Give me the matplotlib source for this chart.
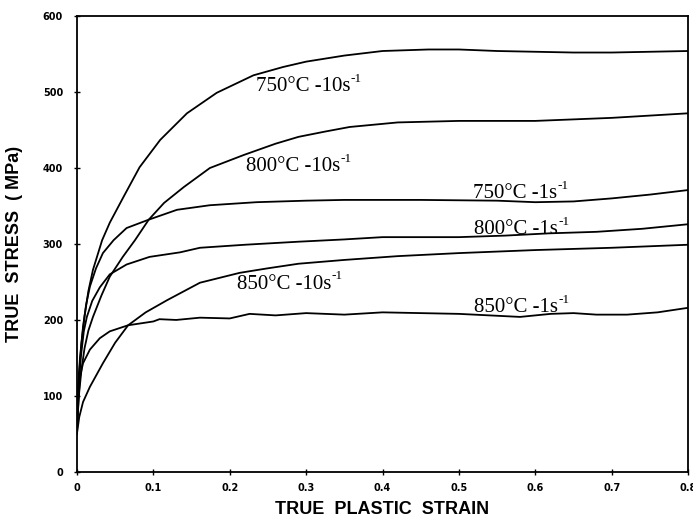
import matplotlib.pyplot as plt

# strain / stress points
s_750_10 = [0, 0.003, 0.006, 0.010, 0.015, 0.021, 0.033, 0.043, 0.061, 0.082, 0.109, 0.144, 0.183, 0.231,
            0.27, 0.30, 0.35, 0.40, 0.46, 0.50, 0.55, 0.60, 0.65, 0.70, 0.75, 0.80]
t_750_10 = [60, 130, 170, 205, 238, 266, 305, 328, 362, 401, 437, 472, 499, 522,
            533, 540, 548, 554, 556, 556, 554, 553, 552, 552, 553, 554]

s_800_10 = [0, 0.003, 0.006, 0.010, 0.015, 0.021, 0.032, 0.043, 0.060, 0.076, 0.094, 0.114, 0.140, 0.174, 0.218,
            0.26, 0.29, 0.325, 0.357, 0.42, 0.50, 0.55, 0.60, 0.65, 0.70, 0.75, 0.80]
t_800_10 = [60, 105, 135, 163, 186, 204, 232, 257, 283, 305, 332, 354, 375, 400, 417,
            432, 441, 448, 454, 460, 462, 462, 462, 464, 466, 469, 472]

s_750_1 = [0, 0.002, 0.004, 0.008, 0.012, 0.017, 0.025, 0.034, 0.048, 0.065, 0.094, 0.131, 0.174, 0.235,
           0.30, 0.35, 0.45, 0.55, 0.60, 0.65, 0.70, 0.75, 0.80]
t_750_1 = [60, 120, 150, 191, 220, 244, 268, 288, 305, 321, 332, 345, 351, 355,
           357, 358, 358, 357, 355, 356, 360, 365, 371]

s_800_1 = [0, 0.002, 0.005, 0.009, 0.013, 0.020, 0.030, 0.043, 0.065, 0.095, 0.135, 0.161, 0.22, 0.29,
           0.35, 0.40, 0.50, 0.56, 0.618, 0.68, 0.74, 0.80]
t_800_1 = [55, 110, 150, 185, 204, 225, 243, 260, 273, 283, 289, 295, 299, 303,
           306, 309, 309, 311, 314, 316, 320, 326]

s_850_10 = [0, 0.003, 0.008, 0.017, 0.034, 0.050, 0.067, 0.090, 0.118, 0.161, 0.213, 0.25, 0.29, 0.35,
            0.42, 0.50, 0.60, 0.70, 0.80]
t_850_10 = [50, 72, 92, 112, 143, 170, 193, 210, 226, 249, 262, 268, 274, 279,
            284, 288, 292, 295, 299]

s_850_1 = [0, 0.002, 0.004, 0.008, 0.017, 0.030, 0.043, 0.067, 0.10, 0.108, 0.13, 0.161, 0.20, 0.226,
           0.26, 0.30, 0.35, 0.40, 0.45, 0.50, 0.54, 0.58, 0.62, 0.65, 0.68, 0.72, 0.76, 0.80]
t_850_1 = [50, 95, 125, 143, 161, 176, 185, 193, 198, 201, 200, 203, 202, 208,
           206, 209, 207, 210, 209, 208, 206, 204, 208, 209, 207, 207, 210, 216]

curves = [
    (s_750_10, t_750_10, '750°C -10s', 0.235, 501),
    (s_800_10, t_800_10, '800°C -10s', 0.221, 396),
    (s_750_1, t_750_1, '750°C -1s', 0.519, 360),
    (s_800_1, t_800_1, '800°C -1s', 0.520, 313),
    (s_850_10, t_850_10, '850°C -10s', 0.210, 241),
    (s_850_1, t_850_1, '850°C -1s', 0.520, 210),
]

fig = plt.figure(figsize=(6.93, 5.18), dpi=100)
ax = fig.add_axes([0.111, 0.089, 0.882, 0.880])

for s, t, lab, lx, ly in curves:
    ax.plot(s, t, color='black', lw=1.3, solid_joinstyle='round')
    txt = ax.text(lx, ly, lab, fontsize=15, family='Liberation Serif',
                  va='baseline', ha='left')
    ax.annotate('-1', xy=(1.0, 0.6), xycoords=txt, fontsize=9.5,
                family='Liberation Serif', va='bottom', ha='left')

ax.set_xlim(0, 0.8)
ax.set_ylim(0, 600)
ax.set_xticks([0, 0.1, 0.2, 0.3, 0.4, 0.5, 0.6, 0.7, 0.8])
ax.set_xticklabels(['0', '0.1', '0.2', '0.3', '0.4', '0.5', '0.6', '0.7', '0.8'])
ax.set_yticks([0, 100, 200, 300, 400, 500, 600])
ax.tick_params(direction='inout', length=4, width=1, labelsize=7)
ax.tick_params(axis='x', pad=6)
ax.tick_params(axis='y', pad=8)
for lbl in ax.get_xticklabels() + ax.get_yticklabels():
    lbl.set_fontweight('bold')
for sp in ax.spines.values():
    sp.set_linewidth(1.3)

ax.set_xlabel('TRUE  PLASTIC  STRAIN', fontsize=13, fontweight='bold',
              family='Liberation Sans', labelpad=6)
ax.set_ylabel('TRUE  STRESS  ( MPa)', fontsize=13, fontweight='bold',
              family='Liberation Sans', labelpad=14)

fig.savefig('out.png', dpi=100)
